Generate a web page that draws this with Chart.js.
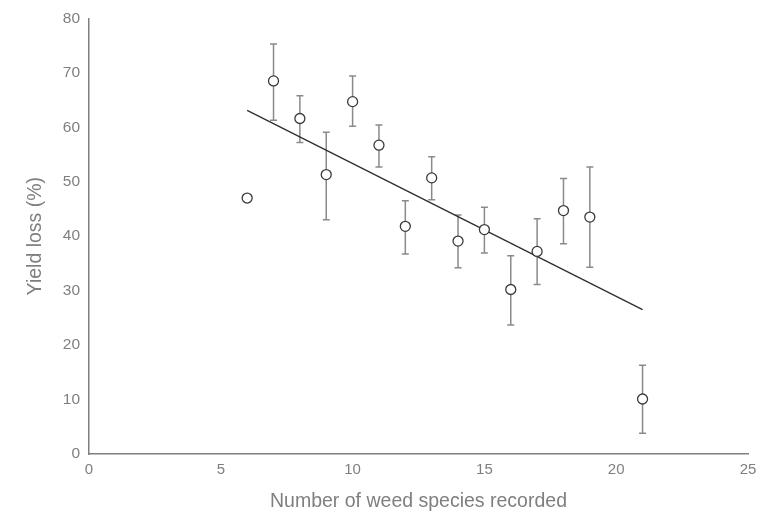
<!DOCTYPE html>
<html lang="en">
<head>
    <meta charset="UTF-8">
    <title>Yield loss vs weed species</title>
    <script src="https://cdn.jsdelivr.net/npm/chart.js@4.4.3/dist/chart.umd.min.js"></script>
    <style>
        * {
            margin: 0;
            padding: 0;
        }
        body {
            background: white;
        }
        .chartBox {
            width: 760px;
            height: 515px;
        }
    </style>
</head>
<body>
<div class="chartBox">
    <canvas id="myChart" width="760" height="515"></canvas>
</div>
<script>
    // number of weed species recorded
    const speciesCount = [6, 7, 8, 9, 10, 11, 12, 13, 14, 15, 16, 17, 18, 19, 21];
    // mean yield loss (%)
    const yieldLoss = [47.0, 68.5, 61.6, 51.3, 64.7, 56.7, 41.8, 50.7, 39.1, 41.2, 30.2, 37.2, 44.7, 43.5, 10.1];
    // error bar ends (null = no bar)
    const errUpper = [null, 75.3, 65.8, 59.1, 69.4, 60.4, 46.5, 54.6, 43.9, 45.3, 36.4, 43.2, 50.6, 52.7, 16.3];
    const errLower = [null, 61.3, 57.2, 43.0, 60.2, 52.7, 36.7, 46.7, 34.2, 36.9, 23.7, 31.1, 38.6, 34.3, 3.8];
    // linear trend line ends
    const trendX = [6, 21];
    const trendY = [63.1, 26.5];

    const xTicks = [0, 5, 10, 15, 20, 25];
    const yTicks = [0, 10, 20, 30, 40, 50, 60, 70, 80];

    const axisGrey = '#7f7f7f';
    const fontFamily = '"Liberation Sans", Arial, sans-serif';

    const errorBars = {
        id: 'errorBars',
        beforeDatasetsDraw(chart) {
            const ctx = chart.ctx;
            const xs = chart.scales.x;
            const ys = chart.scales.y;
            ctx.save();
            ctx.strokeStyle = '#8a8a8a';
            ctx.lineWidth = 1.5;
            speciesCount.forEach((c, i) => {
                if (errUpper[i] == null) return;
                const px = xs.getPixelForValue(c);
                const top = ys.getPixelForValue(errUpper[i]);
                const bot = ys.getPixelForValue(errLower[i]);
                ctx.beginPath();
                ctx.moveTo(px, top);
                ctx.lineTo(px, bot);
                ctx.moveTo(px - 3.5, top);
                ctx.lineTo(px + 3.5, top);
                ctx.moveTo(px - 3.5, bot);
                ctx.lineTo(px + 3.5, bot);
                ctx.stroke();
            });
            ctx.restore();
        }
    };

    const config = {
        type: 'scatter',
        data: {
            datasets: [{
                label: 'Yield loss',
                data: speciesCount.map((c, i) => ({ x: c, y: yieldLoss[i] })),
                pointRadius: 5,
                pointBorderWidth: 1.3,
                borderColor: '#3a3a3a',
                backgroundColor: '#ffffff',
                order: 1
            }, {
                label: 'Trend',
                type: 'line',
                data: trendX.map((v, i) => ({ x: v, y: trendY[i] })),
                borderColor: '#2e2e2e',
                borderWidth: 1.3,
                pointRadius: 0,
                fill: false,
                order: 2
            }]
        },
        options: {
            responsive: false,
            animation: false,
            layout: {
                padding: { top: 10, right: 12, left: 24, bottom: 0 }
            },
            plugins: {
                legend: { display: false },
                tooltip: { enabled: false }
            },
            scales: {
                x: {
                    type: 'linear',
                    min: 0,
                    max: 25,
                    afterBuildTicks: (scale) => { scale.ticks = xTicks.map(v => ({ value: v })); },
                    grid: { display: false, drawTicks: false },
                    border: { color: axisGrey, width: 1.5 },
                    ticks: {
                        color: axisGrey,
                        padding: 7,
                        font: { family: fontFamily, size: 15 }
                    },
                    title: {
                        display: true,
                        text: 'Number of weed species recorded',
                        color: axisGrey,
                        font: { family: fontFamily, size: 19.5 },
                        padding: { top: 6, bottom: 2 }
                    },
                    afterFit: (scale) => {
                        scale.height = 61;
                        scale.paddingRight = 0;
                        scale.paddingLeft = 0;
                    }
                },
                y: {
                    min: 0,
                    max: 80,
                    afterBuildTicks: (scale) => { scale.ticks = yTicks.map(v => ({ value: v })); },
                    grid: { display: false, drawTicks: false },
                    border: { color: axisGrey, width: 1.5 },
                    ticks: {
                        color: axisGrey,
                        padding: 9,
                        font: { family: fontFamily, size: 15.5 }
                    },
                    title: {
                        display: true,
                        text: 'Yield loss (%)',
                        color: axisGrey,
                        font: { family: fontFamily, size: 19.5 },
                        padding: { top: 0, bottom: 8 }
                    },
                    afterFit: (scale) => { scale.width = 65; }
                }
            }
        },
        plugins: [errorBars]
    };

    new Chart(document.getElementById('myChart'), config);
</script>
</body>
</html>
